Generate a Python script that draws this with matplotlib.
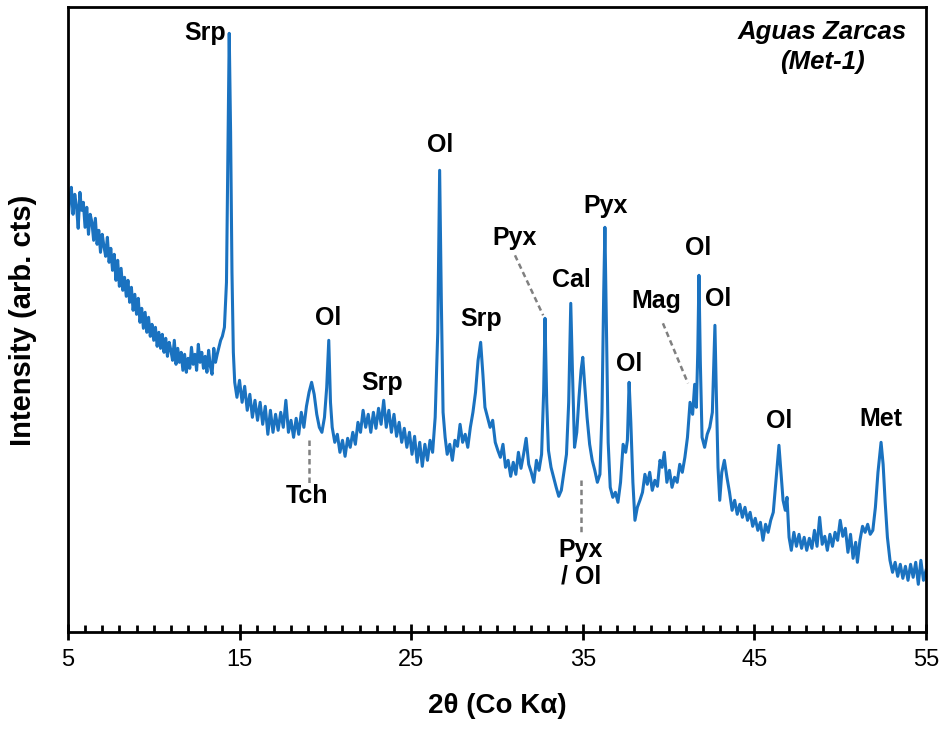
import numpy as np
import matplotlib
matplotlib.use('Agg')
import matplotlib.pyplot as plt

plt.rcParams['font.family'] = ['Liberation Sans', 'DejaVu Sans']

# 2theta (deg) and intensity (arb.)
two_theta = [
    5.0, 5.1, 5.2, 5.3, 5.4, 5.5, 5.6, 5.7, 5.8, 5.9,
    6.0, 6.1, 6.2, 6.3, 6.4, 6.5, 6.6, 6.7, 6.8, 6.9,
    7.0, 7.1, 7.2, 7.3, 7.4, 7.5, 7.6, 7.7, 7.8, 7.9,
    8.0, 8.1, 8.2, 8.3, 8.4, 8.5, 8.6, 8.7, 8.8, 8.9,
    9.0, 9.1, 9.2, 9.3, 9.4, 9.5, 9.6, 9.7, 9.8, 9.9,
    10.0, 10.1, 10.2, 10.3, 10.4, 10.5, 10.6, 10.7, 10.8, 10.9,
    11.0, 11.1, 11.2, 11.3, 11.4, 11.5, 11.6, 11.7, 11.8, 11.9,
    12.0, 12.1, 12.2, 12.3, 12.4, 12.5, 12.6, 12.7, 12.8, 12.9,
    13.0, 13.1, 13.2, 13.3, 13.4, 13.5, 13.6, 13.7, 13.8, 13.9,
    14.0,
    14.12, 14.24, 14.32, 14.40, 14.48, 14.56, 14.64, 14.72,
    14.85, 15.00, 15.15, 15.30, 15.45, 15.60, 15.75, 15.90, 16.05, 16.20, 16.35, 16.50,
    16.65, 16.80, 16.95, 17.10, 17.25, 17.40, 17.55, 17.70, 17.85, 18.00, 18.15, 18.30,
    18.45, 18.60, 18.75, 18.90, 19.05, 19.20, 19.35, 19.50, 19.65, 19.80, 19.95, 20.08,
    20.20, 20.30, 20.40, 20.55, 20.70, 20.85, 21.00, 21.15, 21.30, 21.45, 21.60, 21.75,
    21.90, 22.05, 22.20, 22.35, 22.50, 22.65, 22.80, 22.95, 23.10, 23.25, 23.40, 23.55,
    23.70, 23.85, 24.00, 24.15, 24.30, 24.45, 24.60, 24.75, 24.90, 25.05, 25.20, 25.35,
    25.50, 25.65, 25.80, 25.95, 26.10, 26.25, 26.40, 26.55, 26.66, 26.76, 26.86, 26.98,
    27.10, 27.25, 27.40, 27.55, 27.70, 27.85, 28.00, 28.15, 28.30, 28.45, 28.60, 28.75,
    28.90, 29.05, 29.18, 29.30, 29.45, 29.60, 29.75, 29.90, 30.05, 30.20, 30.35, 30.50,
    30.65, 30.80, 30.95, 31.10, 31.25, 31.40, 31.55, 31.70, 31.85, 32.00, 32.15, 32.30,
    32.45, 32.60, 32.72, 32.80, 32.90, 33.00, 33.15, 33.30, 33.45, 33.60, 33.75, 33.90,
    34.05, 34.18, 34.30, 34.40, 34.52, 34.65, 34.78, 34.90, 35.00, 35.10, 35.25, 35.40,
    35.55, 35.70, 35.85, 36.00, 36.12, 36.22, 36.29, 36.38, 36.48, 36.60, 36.75, 36.90,
    37.05, 37.20, 37.35, 37.50, 37.60, 37.70, 37.80, 37.92, 38.04, 38.18, 38.33, 38.48,
    38.62, 38.76, 38.90, 39.05, 39.20, 39.35, 39.50, 39.62, 39.75, 39.90, 40.05, 40.20,
    40.35, 40.50, 40.65, 40.80, 40.95, 41.10, 41.25, 41.40, 41.52, 41.62, 41.70, 41.77,
    41.85, 41.95, 42.10, 42.25, 42.40, 42.55, 42.65, 42.70, 42.78, 42.88, 42.98, 43.10,
    43.25, 43.40, 43.55, 43.70, 43.85, 44.00, 44.15, 44.30, 44.45, 44.60, 44.75, 44.90,
    45.05, 45.20, 45.35, 45.50, 45.65, 45.80, 45.95, 46.10, 46.25, 46.43, 46.55, 46.67,
    46.80, 46.90, 47.02, 47.15, 47.30, 47.45, 47.60, 47.75, 47.90, 48.05, 48.20, 48.35,
    48.50, 48.65, 48.80, 48.95, 49.10, 49.25, 49.40, 49.55, 49.70, 49.85, 50.00, 50.15,
    50.30, 50.45, 50.60, 50.75, 50.90, 51.00, 51.15, 51.30, 51.45, 51.60, 51.75, 51.90,
    52.05, 52.20, 52.38, 52.50, 52.62, 52.75, 52.90, 53.05, 53.20, 53.35, 53.50, 53.65,
    53.80, 53.95, 54.10, 54.25, 54.40, 54.55, 54.70, 54.85, 55.00,
]
intensity = [
    410, 432, 445, 418, 438, 426, 404, 440, 422, 430,
    405, 425, 398, 418, 410, 392, 414, 388, 402, 380,
    398, 386, 376, 395, 370, 384, 362, 378, 352, 372,
    346, 364, 342, 355, 336, 352, 330, 345, 322, 338,
    318, 334, 310, 324, 304, 320, 300, 315, 296, 308,
    292, 305, 286, 300, 284, 298, 280, 294, 276, 290,
    282, 272, 292, 268, 284, 270, 280, 262, 278, 260,
    274, 264, 285, 268, 278, 262, 288, 270, 280, 264,
    276, 260, 282, 266, 258, 284, 270, 278, 285, 292,
    296,
    305, 350, 470, 599, 500, 360, 280, 250,
    235, 252, 230, 246, 222, 238, 215, 232, 212, 230, 208, 226,
    198, 222, 200, 218, 202, 220, 205, 232, 200, 212, 195, 214,
    198, 220, 205, 226, 240, 250, 238, 218, 205, 200, 215, 245,
    292, 230, 205, 190, 198, 180, 192, 176, 194, 185, 200, 188,
    210, 200, 222, 205, 218, 200, 220, 204, 224, 208, 232, 205,
    222, 200, 218, 196, 210, 190, 204, 185, 200, 178, 196, 170,
    190, 166, 188, 172, 192, 180, 215, 300, 462, 330, 220, 195,
    178, 188, 172, 192, 186, 208, 190, 198, 185, 205, 220, 240,
    272, 290, 258, 225, 215, 205, 212, 190, 182, 175, 188, 165,
    172, 156, 170, 158, 180, 164, 178, 194, 168, 160, 150, 172,
    162, 178, 240, 314, 230, 182, 165, 155, 145, 136, 142, 160,
    178, 230, 329, 260, 185, 200, 235, 262, 275, 250, 215, 188,
    172, 162, 150, 158, 220, 340, 405, 300, 190, 145, 135, 140,
    130, 150, 188, 180, 192, 250, 210, 150, 112, 125, 132, 140,
    158, 148, 160, 142, 152, 146, 172, 165, 180, 150, 162, 145,
    155, 150, 168, 160, 175, 195, 230, 218, 248, 225, 280, 357,
    270, 195, 185, 198, 205, 220, 280, 307, 240, 165, 132, 160,
    172, 155, 140, 122, 132, 118, 128, 115, 125, 112, 120, 106,
    114, 102, 110, 92, 108, 100, 112, 120, 150, 187, 160, 132,
    122, 135, 95, 82, 100, 86, 98, 84, 95, 82, 94, 84,
    102, 86, 115, 88, 96, 82, 98, 86, 100, 92, 112, 96,
    104, 80, 98, 74, 90, 70, 92, 106, 100, 108, 98, 102,
    125, 160, 190, 168, 130, 95, 72, 60, 70, 56, 68, 54,
    66, 52, 68, 55, 70, 48, 72, 52, 62,
]

# phase labels: text, x, y
labels = ['Srp', 'Ol', 'Srp', 'Ol', 'Srp', 'Pyx', 'Cal', 'Pyx', 'Ol', 'Mag',
          'Ol', 'Ol', 'Ol', 'Met', 'Tch', 'Pyx\n/ Ol']
label_x = [12.98, 20.15, 23.30, 26.68, 29.07, 31.05, 34.31, 36.35, 37.69, 39.27,
           41.71, 42.88, 46.43, 52.38, 18.93, 34.90]
label_y = [599, 314, 249, 487, 313, 394, 352, 426, 268, 331,
           384, 333, 211, 213, 136, 69]

# dashed leader lines (x0, x1), (y0, y1)
lead_x = [(19.04, 19.04), (31.05, 32.69), (34.90, 34.90), (39.67, 41.13)]
lead_y = [(192, 148), (377, 317), (152, 100), (309, 249)]

fig = plt.figure(figsize=(9.43, 7.31), dpi=100)
ax = fig.add_axes([0.072, 0.135, 0.910, 0.855])

ax.plot(two_theta, intensity, color='#1a72c0', lw=2.2)

for t, x, y in zip(labels, label_x, label_y):
    ax.text(x, y, t, ha='center', va='center', fontsize=18, fontweight='bold',
            linespacing=1.1)
for xs, ys in zip(lead_x, lead_y):
    ax.plot(xs, ys, color='#808080', lw=1.8, ls=(0, (2.2, 1.5)))

ax.text(48.94, 585, 'Aguas Zarcas\n(Met-1)', ha='center', va='center',
        fontsize=18.5, fontweight='bold', style='italic', linespacing=1.3)

ax.set_xlim(5, 55)
ax.set_ylim(0, 625)
ax.set_xticks(np.arange(5, 56, 10))
ax.set_xticks(np.arange(5, 56, 1), minor=True)
ax.set_yticks([])
ax.tick_params(axis='x', which='major', direction='inout', length=12, width=2,
               labelsize=17, pad=6)
ax.tick_params(axis='x', which='minor', direction='in', length=5, width=2)
for s in ax.spines.values():
    s.set_linewidth(2)

ax.set_xlabel('2θ (Co Kα)', fontsize=20, fontweight='bold', labelpad=16)
ax.set_ylabel('Intensity (arb. cts)', fontsize=21, fontweight='bold', labelpad=22)

plt.savefig('out.png', dpi=100)
